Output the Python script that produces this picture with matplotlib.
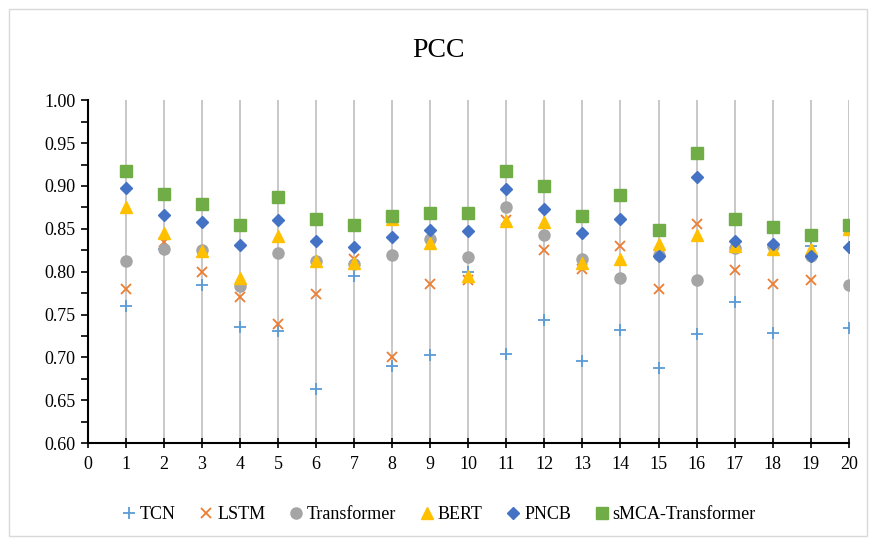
import numpy as np
import matplotlib.pyplot as plt
from matplotlib.patches import Rectangle
from matplotlib.ticker import MultipleLocator

# DATA #################################################################################################################
runs = list(range(1, 21))
tcn = [0.760, 0.826, 0.785, 0.736, 0.731, 0.663, 0.795, 0.690, 0.703, 0.800,
       0.704, 0.744, 0.696, 0.732, 0.688, 0.727, 0.765, 0.729, 0.830, 0.734]
lstm = [0.780, 0.835, 0.800, 0.770, 0.739, 0.774, 0.815, 0.701, 0.786, 0.790,
        0.860, 0.825, 0.803, 0.830, 0.780, 0.856, 0.802, 0.786, 0.790, 0.850]
transformer = [0.812, 0.827, 0.825, 0.783, 0.822, 0.812, 0.809, 0.820, 0.838, 0.817,
               0.876, 0.843, 0.815, 0.793, 0.820, 0.790, 0.828, 0.830, 0.818, 0.784]
bert = [0.876, 0.845, 0.824, 0.793, 0.842, 0.812, 0.810, 0.862, 0.833, 0.795,
        0.859, 0.858, 0.810, 0.815, 0.832, 0.843, 0.830, 0.826, 0.826, 0.850]
pncb = [0.898, 0.866, 0.858, 0.831, 0.860, 0.836, 0.829, 0.841, 0.849, 0.848,
        0.897, 0.873, 0.845, 0.862, 0.818, 0.911, 0.836, 0.832, 0.818, 0.829]
smca = [0.918, 0.891, 0.879, 0.855, 0.887, 0.862, 0.854, 0.865, 0.869, 0.869,
        0.917, 0.900, 0.865, 0.890, 0.849, 0.939, 0.862, 0.852, 0.843, 0.855]

series = [
    ("TCN", tcn, "+", "#5B9BD5", 8),
    ("LSTM", lstm, "x", "#ED7D31", 7),
    ("Transformer", transformer, "o", "#A5A5A5", 8),
    ("BERT", bert, "^", "#FFC000", 8),
    ("PNCB", pncb, "D", "#4472C4", 6),
    ("sMCA-Transformer", smca, "s", "#70AD47", 8),
]

# FIGURE ###############################################################################################################
plt.rcParams['font.family'] = ['Liberation Serif', 'DejaVu Serif']
fig = plt.figure(figsize=(8.76, 5.45), dpi=100)
fig.patches.append(Rectangle((0.010, 0.016), 0.980, 0.968, transform=fig.transFigure,
                             fill=False, edgecolor='#d9d9d9', linewidth=1))
ax = fig.add_axes([0.100, 0.187, 0.869, 0.629])

for name, vals, mk, col, ms in series:
    if mk in ("+", "x"):
        ax.plot(runs, vals, linestyle='none', marker=mk, color=col, markersize=ms,
                markeredgewidth=1.3, label=name, zorder=3)
    else:
        ax.plot(runs, vals, linestyle='none', marker=mk, color=col, markersize=ms,
                markeredgecolor=col, label=name, zorder=3)

ax.set_xlim(0, 20)
ax.set_ylim(0.60, 1.00)
ax.set_xticks(range(0, 21))
ax.yaxis.set_major_locator(MultipleLocator(0.05))
ax.yaxis.set_minor_locator(MultipleLocator(0.025))
ax.yaxis.set_major_formatter(plt.FormatStrFormatter('%.2f'))
ax.tick_params(axis='y', which='both', direction='out', length=5, width=1.2, labelsize=13)
ax.tick_params(axis='x', which='major', direction='inout', length=7, width=1.2, labelsize=13, pad=6)
ax.grid(axis='x', color='#bfbfbf', linewidth=1.2, zorder=0)
ax.set_axisbelow(True)
for s in ('top', 'right'):
    ax.spines[s].set_visible(False)
for s in ('left', 'bottom'):
    ax.spines[s].set_linewidth(1.5)

fig.suptitle("PCC", fontsize=20, y=0.93)
fig.legend(loc='lower center', bbox_to_anchor=(0.5, 0.01), ncol=6, frameon=False,
           fontsize=13, handletextpad=0.1, columnspacing=1.2, handlelength=1.0)

fig.savefig("out.png", dpi=100)
